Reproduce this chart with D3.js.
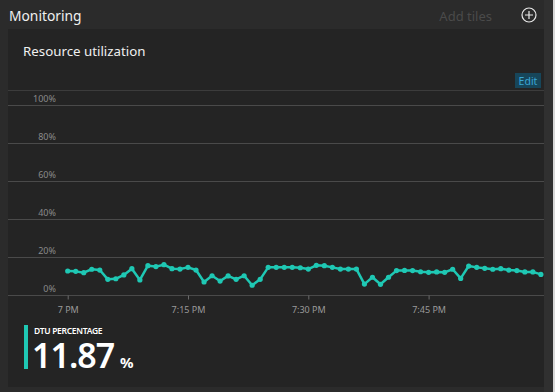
<!DOCTYPE html>
<html><head><meta charset="utf-8">
<script src="https://cdn.jsdelivr.net/npm/d3@7/dist/d3.min.js"></script>
<style>
html,body{margin:0;padding:0;background:#2b2b2b;overflow:hidden;}
svg{display:block;font-family:"Noto Sans","Open Sans",sans-serif;}
</style></head>
<body>
<svg id="c" width="555" height="392"></svg>
<script>
// Data: DTU percentage sampled each minute from 7:00 PM
const startTime = "2016-01-01T19:00:00";
const dtuValues = [12.8,12.6,11.9,13.7,13.3,8.4,8.7,10.7,14.0,8.1,
  15.6,15.1,16.1,14.0,13.8,14.7,13.3,7.0,10.3,7.5,
  10.2,8.4,10.3,5.3,8.4,14.7,14.7,14.7,14.7,14.5,
  13.8,15.8,15.6,14.7,13.8,13.8,13.8,5.9,9.5,5.8,
  9.5,13.0,13.1,13.0,12.4,12.1,12.3,12.1,13.7,8.9,
  15.4,14.7,14.2,13.7,14.0,13.3,13.0,12.3,12.3,11.0];
const yTicks = [0,20,40,60,80,100];
const xTickMinutes = [0,15,30,45];
const title = "Monitoring";
const tileTitle = "Resource utilization";
const metricLabel = "DTU PERCENTAGE";
const metricValue = "11.87";
const metricUnit = "%";

const svg = d3.select("#c");
const t0 = new Date(startTime);
const data = dtuValues.map((v,i)=>({t:new Date(t0.getTime()+i*60000), v}));

// backgrounds
svg.append("rect").attr("x",0).attr("y",0).attr("width",555).attr("height",392).attr("fill","#2b2b2b");
svg.append("rect").attr("x",544).attr("y",0).attr("width",9).attr("height",392).attr("fill","#303030");
svg.append("rect").attr("x",553).attr("y",0).attr("width",2).attr("height",392).attr("fill","#d8d8d8");
svg.append("rect").attr("x",8).attr("y",29).attr("width",536).attr("height",358).attr("fill","#242424");

// header
svg.append("text").attr("x",9).attr("y",21).attr("fill","#f0f0f0").attr("font-size",13.8).text(title);
svg.append("text").attr("x",492).attr("y",21).attr("text-anchor","end").attr("fill","#4a4a4a").attr("font-size",13).text("Add tiles");
svg.append("circle").attr("cx",529).attr("cy",15).attr("r",7).attr("fill","none").attr("stroke","#e8e8e8").attr("stroke-width",1.2);
svg.append("path").attr("d","M525,15H533M529,11V19").attr("stroke","#e8e8e8").attr("stroke-width",1.2);

svg.append("text").attr("x",23).attr("y",56).attr("fill","#f0f0f0").attr("font-size",13.3).text(tileTitle);

// Edit button
svg.append("rect").attr("x",515).attr("y",73).attr("width",26).attr("height",15).attr("fill","#17465a");
svg.append("text").attr("x",528).attr("y",84.5).attr("text-anchor","middle").attr("fill","#3aa6d6").attr("font-size",10.5).text("Edit");

// top divider
svg.append("line").attr("x1",8).attr("x2",544).attr("y1",90.5).attr("y2",90.5).attr("stroke","#3c3c3c");

// scales
const x = d3.scaleTime().domain([t0, new Date(t0.getTime()+60*60000)]).range([67.7, 548.9]);
const y = d3.scaleLinear().domain([0,100]).range([295.3,105.3]);

// grid
const g = svg.append("g");
g.selectAll("line.grid").data(yTicks).join("line")
  .attr("x1",8).attr("x2",544)
  .attr("y1",d=>Math.round(y(d))+0.5).attr("y2",d=>Math.round(y(d))+0.5)
  .attr("stroke","#4a4a4a");
g.selectAll("text.yl").data(yTicks).join("text")
  .attr("x",56).attr("y",d=>Math.round(y(d))-3)
  .attr("text-anchor","end").attr("fill","#8a8a8a").attr("font-size",9).text(d=>d+"%");

// x axis
const xTicks = xTickMinutes.map(m=>new Date(t0.getTime()+m*60000));
const fmt = d=> d.getMinutes()===0 ? d3.timeFormat("%-I %p")(d) : d3.timeFormat("%-I:%M %p")(d);
const xAxis = d3.axisBottom(x).tickValues(xTicks).tickFormat(fmt).tickSize(4).tickPadding(7);
const ax = svg.append("g").attr("transform",`translate(0,${Math.round(y(0))+0.5})`).call(xAxis);
ax.select(".domain").remove();
ax.selectAll(".tick line").attr("stroke","#6a6a6a");
ax.selectAll(".tick text").attr("fill","#9a9a9a").attr("font-size",9).attr("font-family","Noto Sans, Open Sans, sans-serif");

// line
const col = "#1fc8b4";
const line = d3.line().x(d=>x(d.t)).y(d=>y(d.v));
svg.append("path").datum(data).attr("d",line).attr("fill","none").attr("stroke",col).attr("stroke-width",2.5).attr("stroke-linejoin","round");
svg.selectAll("circle.pt").data(data).join("circle").attr("class","pt")
  .attr("cx",d=>x(d.t)).attr("cy",d=>y(d.v)).attr("r",2.6).attr("fill",col);

// metric
svg.append("rect").attr("x",24).attr("y",325).attr("width",4).attr("height",44).attr("fill","#1fc8b4");
svg.append("text").attr("x",34).attr("y",333.5).attr("fill","#ffffff").attr("font-size",8.5).attr("font-weight","600").attr("letter-spacing",-0.3).text(metricLabel);
svg.append("text").attr("x",32).attr("y",367.5).attr("fill","#ffffff").attr("font-size",34).attr("font-weight","600").attr("letter-spacing",-1).text(metricValue);
svg.append("text").attr("x",120).attr("y",367.5).attr("fill","#ffffff").attr("font-size",15).attr("font-weight","700").text(metricUnit);
</script>
</body></html>
